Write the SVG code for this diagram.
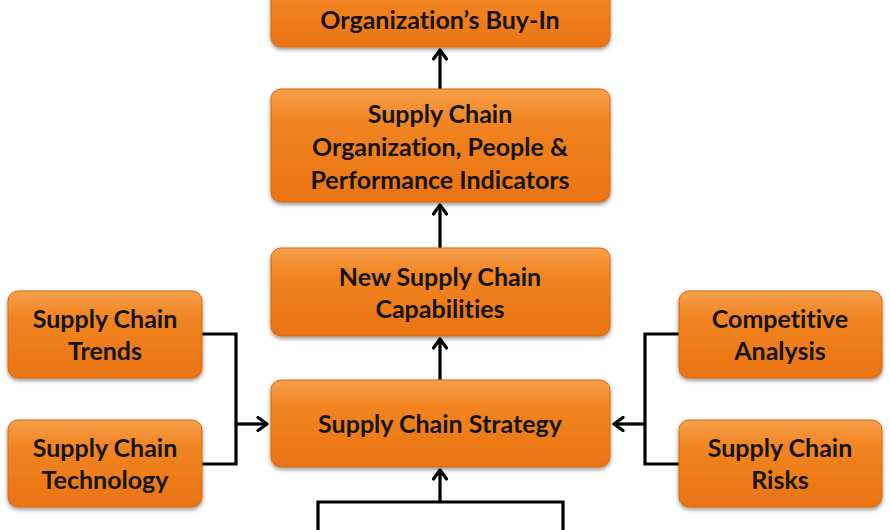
<svg xmlns="http://www.w3.org/2000/svg" width="890" height="530" viewBox="0 0 890 530">
<defs>
<linearGradient id="g" x1="0" y1="0" x2="0" y2="1">
<stop offset="0" stop-color="#f6a04a"/>
<stop offset="0.3" stop-color="#f28422"/>
<stop offset="1" stop-color="#ea7411"/>
</linearGradient>
<filter id="sh" x="-10%" y="-10%" width="120%" height="130%">
<feGaussianBlur in="SourceAlpha" stdDeviation="2"/>
<feOffset dx="0" dy="2" result="b"/>
<feComponentTransfer><feFuncA type="linear" slope="0.45"/></feComponentTransfer>
<feMerge><feMergeNode/><feMergeNode in="SourceGraphic"/></feMerge>
</filter>
<marker id="ah" viewBox="0 0 16 16" refX="13" refY="8" markerWidth="16" markerHeight="16" markerUnits="userSpaceOnUse" orient="auto">
<path d="M4,1.5 L13,8 L4,14.5" fill="none" stroke="#000" stroke-width="3.2" stroke-linecap="round" stroke-linejoin="round"/>
</marker>
<style>
.box{fill:url(#g);stroke:#d7680c;stroke-width:1;filter:url(#sh)}
.t{font-family:Lato,"Open Sans",sans-serif;font-weight:bold;font-size:25px;fill:#141414;text-anchor:middle;font-variant-ligatures:none}
.c{fill:none;stroke:#000;stroke-width:3.2}
</style>
</defs>
<rect width="890" height="530" fill="#fff"/>
<g id="connectors">
<path class="c" d="M440,89 V50" marker-end="url(#ah)"/>
<path class="c" d="M440,248 V205" marker-end="url(#ah)"/>
<path class="c" d="M440,380 V339" marker-end="url(#ah)"/>
<path class="c" d="M440,502 V470" marker-end="url(#ah)"/>
<path class="c" d="M318,530 V502 H563 V530"/>
<path class="c" d="M202,334 H236 V464 H202"/>
<path class="c" d="M236,424 H267" marker-end="url(#ah)"/>
<path class="c" d="M679,334 H645 V464 H679"/>
<path class="c" d="M645,424 H614" marker-end="url(#ah)"/>
</g>
<g id="buyin">
<rect class="box" x="271" y="-20" width="339" height="67" rx="10"/>
<text class="t" x="440" y="29">Organization’s Buy-In</text>
</g>
<g id="org">
<rect class="box" x="271" y="89" width="339" height="113" rx="10"/>
<text class="t" x="440" y="123">Supply Chain</text>
<text class="t" x="440" y="156">Organization, People &amp;</text>
<text class="t" x="440" y="189">Performance Indicators</text>
</g>
<g id="capabilities">
<rect class="box" x="271" y="248" width="339" height="88" rx="10"/>
<text class="t" x="440" y="286">New Supply Chain</text>
<text class="t" x="440" y="318">Capabilities</text>
</g>
<g id="strategy">
<rect class="box" x="271" y="380" width="339" height="87" rx="10"/>
<text class="t" x="440" y="433">Supply Chain Strategy</text>
</g>
<g id="trends">
<rect class="box" x="8" y="291" width="194" height="87" rx="10"/>
<text class="t" x="105" y="328">Supply Chain</text>
<text class="t" x="105" y="360">Trends</text>
</g>
<g id="technology">
<rect class="box" x="8" y="420" width="194" height="87" rx="10"/>
<text class="t" x="105" y="457">Supply Chain</text>
<text class="t" x="105" y="489">Technology</text>
</g>
<g id="competitive">
<rect class="box" x="679" y="291" width="203" height="87" rx="10"/>
<text class="t" x="780" y="328">Competitive</text>
<text class="t" x="780" y="360">Analysis</text>
</g>
<g id="risks">
<rect class="box" x="679" y="420" width="203" height="87" rx="10"/>
<text class="t" x="780" y="457">Supply Chain</text>
<text class="t" x="780" y="489">Risks</text>
</g>
</svg>
